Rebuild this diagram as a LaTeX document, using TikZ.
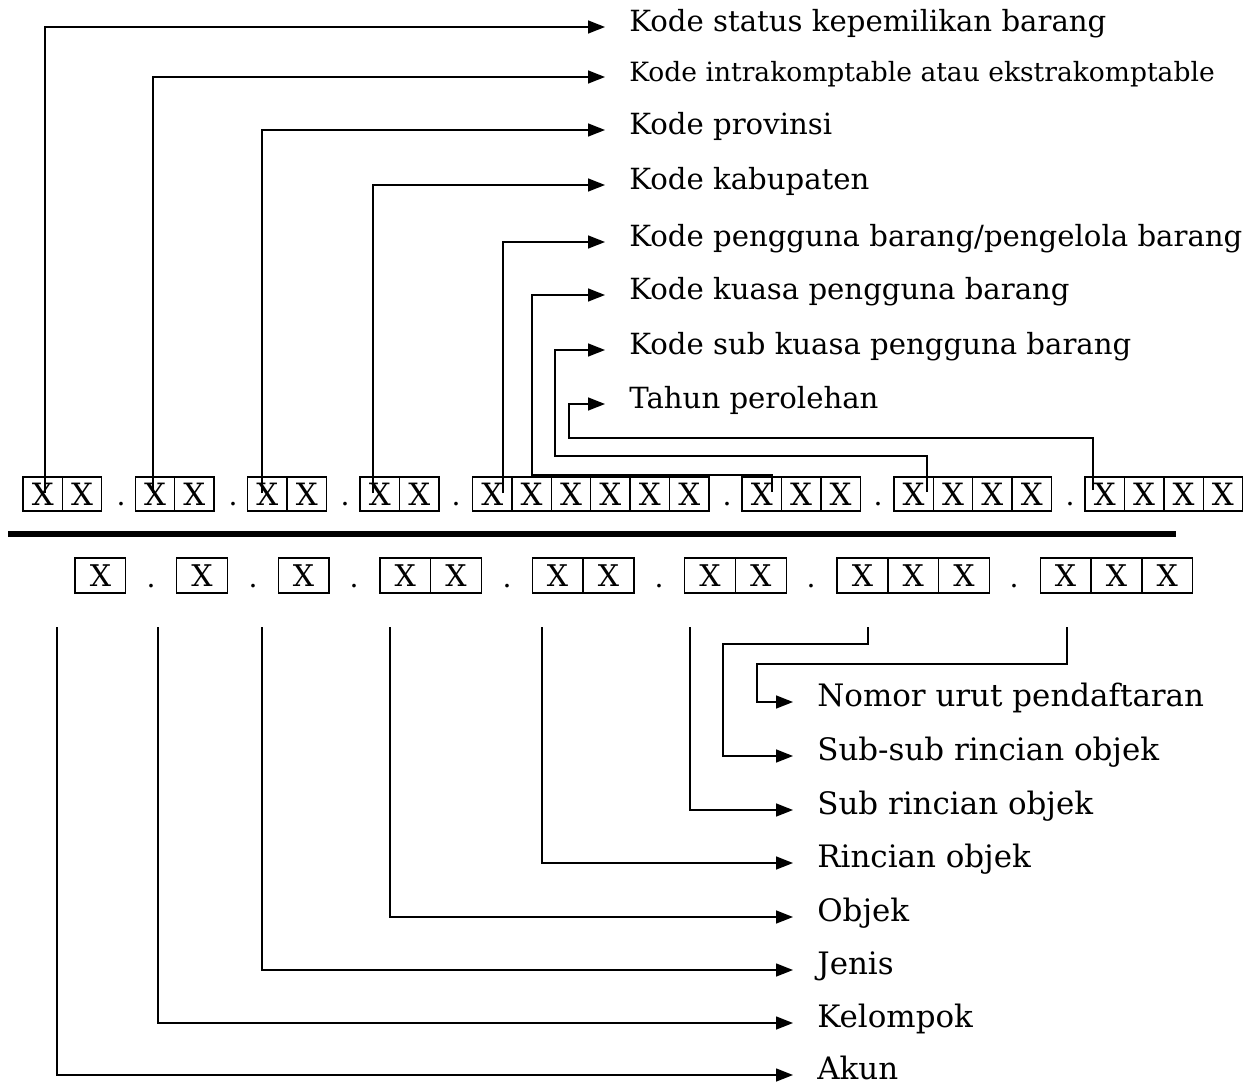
\documentclass[tikz,border=0pt]{standalone}
\usepackage{fontspec}
\setmainfont{DejaVu Serif}
\usepackage{tikz}
\usetikzlibrary{shapes,arrows,arrows.meta}
\tikzstyle{xcell} = [draw, thick, minimum width=0.788cm, minimum height=0.68cm, inner sep=0pt, font=\fontsize{17.5}{17.5}\selectfont]
\tikzstyle{xcellwide} = [draw, thick, minimum width=1.016cm, minimum height=0.70cm, inner sep=0pt, font=\fontsize{17}{17}\selectfont]
\tikzstyle{dotmark} = [anchor=base, inner sep=0pt, font=\fontsize{16}{16}\selectfont]
\tikzstyle{desc} = [anchor=mid west, inner xsep=0.48cm, inner ysep=0pt, font=\fontsize{16.6}{19}\selectfont]
\tikzstyle{descb} = [desc, font=\fontsize{17.6}{20}\selectfont]
\tikzstyle{arrow} = [draw, -{Triangle[length=0.34cm,width=0.26cm]}, line width=0.03cm]

\begin{document}
\begin{tikzpicture}[x=0.02cm, y=-0.02cm]
\useasboundingbox (0,0) rectangle (1244,1085);

% upper code row
\foreach \gp/\st/\nc in {a/23/2, b/135.3/2, c/247.7/2, d/360.1/2, e/472.5/6, f/742/3, g/893.9/4, h/1085/4}
  \foreach \i in {1,...,\nc}
    \node[xcell] (\gp\i) at ({\st+(\i-0.5)*39.4},494) {X};
\foreach \x [count=\i] in {121, 233, 345, 456, 727, 878, 1070}
  \node[dotmark] (udot\i) at (\x,505) {.};

% labels of the upper row
\node[desc] (k1) at (605,27) {Kode status kepemilikan barang};
\node[desc, font=\fontsize{15.1}{17}\selectfont] (k2) at (605,77) {Kode intrakomptable atau ekstrakomptable};
\node[desc] (k3) at (605,130) {Kode provinsi};
\node[desc] (k4) at (605,185) {Kode kabupaten};
\node[desc] (k5) at (605,242) {Kode pengguna barang/pengelola barang};
\node[desc] (k6) at (605,295) {Kode kuasa pengguna barang};
\node[desc] (k7) at (605,350) {Kode sub kuasa pengguna barang};
\node[desc] (k8) at (605,404) {Tahun perolehan};

\coordinate (e1) at (45,493);
\coordinate (e2) at (153,493);
\coordinate (e3) at (262,493);
\coordinate (e4) at (373,493);
\coordinate (e5) at (503,493);
\coordinate (e6) at (772,492);
\coordinate (e7) at (927,492);
\coordinate (e8) at (1093,490);

\path[arrow] (e1) |- (k1.mid west);
\path[arrow] (e2) |- (k2.mid west);
\path[arrow] (e3) |- (k3.mid west);
\path[arrow] (e4) |- (k4.mid west);
\path[arrow] (e5) |- (k5.mid west);
\path[arrow] (e6) |- (532,475) |- (k6.mid west);
\path[arrow] (e7) |- (555,456) |- (k7.mid west);
\path[arrow] (e8) |- (569,438) |- (k8.mid west);

% dividing rule
\draw[line width=0.12cm] (8,533.5) -- (1176,533.5);

% lower code row
\foreach \gp/\st/\nc in {p/75/1, q/176.6/1, r/278.2/1, s/379.8/2, t/532.2/2, u/684.6/2, v/837/3, w/1040.2/3}
  \foreach \i in {1,...,\nc}
    \node[xcellwide] (\gp\i) at ({\st+(\i-0.5)*50.8},575.5) {X};
\foreach \x [count=\i] in {151, 253, 354, 507, 659, 811, 1014}
  \node[dotmark] (ldot\i) at (\x,587) {.};

% labels of the lower row
\node[descb] (m1) at (793,702) {Nomor urut pendaftaran};
\node[descb] (m2) at (793,756) {Sub-sub rincian objek};
\node[descb] (m3) at (793,810) {Sub rincian objek};
\node[descb] (m4) at (793,863) {Rincian objek};
\node[descb] (m5) at (793,917) {Objek};
\node[descb] (m6) at (793,970) {Jenis};
\node[descb] (m7) at (793,1023) {Kelompok};
\node[descb] (m8) at (793,1075) {Akun};

\coordinate (f1) at (57,627);
\coordinate (f2) at (158,627);
\coordinate (f3) at (262,627);
\coordinate (f4) at (390,627);
\coordinate (f5) at (542,627);
\coordinate (f6) at (690,627);
\coordinate (f7) at (868,627);
\coordinate (f8) at (1067,627);

\path[arrow] (f1) |- (m8.mid west);
\path[arrow] (f2) |- (m7.mid west);
\path[arrow] (f3) |- (m6.mid west);
\path[arrow] (f4) |- (m5.mid west);
\path[arrow] (f5) |- (m4.mid west);
\path[arrow] (f6) |- (m3.mid west);
\path[arrow] (f7) |- (723,644) |- (m2.mid west);
\path[arrow] (f8) |- (757,664) |- (m1.mid west);
\end{tikzpicture}
\end{document}
